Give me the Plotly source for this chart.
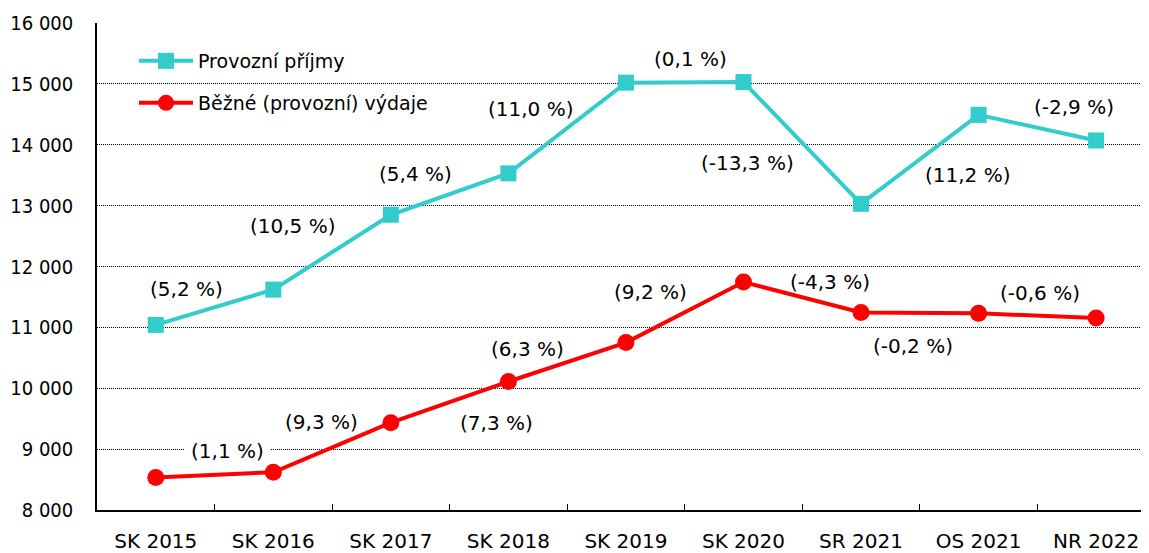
import plotly.graph_objects as go

categories = ["SK 2015", "SK 2016", "SK 2017", "SK 2018", "SK 2019",
              "SK 2020", "SR 2021", "OS 2021", "NR 2022"]
prijmy = [11040, 11620, 12850, 13530, 15020, 15030, 13030, 14490, 14070]
vydaje = [8535, 8620, 9435, 10110, 10750, 11745, 11245, 11230, 11155]

prijmy_labels = ["(5,2 %)", "(10,5 %)", "(5,4 %)", "(11,0 %)", "(0,1 %)",
                 "(-13,3 %)", "(11,2 %)", "(-2,9 %)"]
vydaje_labels = ["(1,1 %)", "(9,3 %)", "(7,3 %)", "(6,3 %)", "(9,2 %)",
                 "(-4,3 %)", "(-0,2 %)", "(-0,6 %)"]

# label placement (category position, value position)
prijmy_lab_x = [0.26, 1.17, 2.21, 3.19, 4.55, 5.03, 6.91, 7.81]
prijmy_lab_y = [11630, 12660, 13520, 14590, 15410, 13700, 13500, 14620]
vydaje_lab_x = [0.61, 1.41, 2.90, 3.16, 4.21, 5.74, 6.44, 7.52]
vydaje_lab_y = [8970, 9445, 9430, 10650, 11580, 11745, 10690, 11565]

FONT = "DejaVu Sans"
FONT_C = "DejaVu Sans Condensed"
CYAN = "#33CCCC"
RED = "#FF0000"
LABEL_SIZE = 20

OFF = 8  # page body margin
W, H = 1149 - OFF, 553 - OFF
ml, mt, mb = 97 - OFF, 23 - OFF, 43
pw = W - ml
ph = H - mt - mb
XR = [-0.5, 8.45]
YR = [8000, 16000]
px_per_cat = pw / (XR[1] - XR[0])
px_per_val = ph / (YR[1] - YR[0])

def px_x(p):
    return (p - OFF - ml) / pw

def px_y(p):
    return (H - mb - (p - OFF)) / ph

# approximate glyph widths (em) of DejaVu Sans, used to size white label backgrounds
EM = {"(": 0.39, ")": 0.39, ",": 0.318, " ": 0.318, "%": 0.95, "-": 0.361}

def text_px(t):
    return sum(EM.get(c, 0.636) for c in t) * LABEL_SIZE

fig = go.Figure()
fig.add_trace(go.Scatter(
    x=categories, y=prijmy, name="Provozní příjmy", mode="lines+markers",
    line=dict(color=CYAN, width=4), marker=dict(symbol="square", size=16, color=CYAN),
    legend="legend", showlegend=True))
fig.add_trace(go.Scatter(
    x=categories, y=vydaje, name="Běžné (provozní) výdaje", mode="lines+markers",
    line=dict(color=RED, width=4), marker=dict(symbol="circle", size=17, color=RED),
    legend="legend2", showlegend=True))

annotations = []
shapes = []
for t, x, y in list(zip(prijmy_labels, prijmy_lab_x, prijmy_lab_y)) + \
        list(zip(vydaje_labels, vydaje_lab_x, vydaje_lab_y)):
    annotations.append(dict(x=x, y=y, xref="x", yref="y", text=t, showarrow=False,
                            font=dict(family=FONT, size=LABEL_SIZE, color="black")))
    hw = (text_px(t) / 2 + 6) / px_per_cat
    hh = 12 / px_per_val
    shapes.append(dict(type="rect", xref="x", yref="y", x0=x - hw, x1=x + hw,
                       y0=y - hh, y1=y + hh, fillcolor="white",
                       line=dict(width=0), layer="between"))

shapes.append(dict(type="rect", xref="paper", yref="paper",
                   x0=px_x(113), x1=px_x(458), y0=px_y(125), y1=px_y(36),
                   fillcolor="white", line=dict(width=0), layer="between"))

fig.update_layout(
    width=W, height=H,
    margin=dict(l=ml, r=0, t=mt, b=mb, autoexpand=False),
    plot_bgcolor="white", paper_bgcolor="white",
    font=dict(family=FONT, size=19, color="black"),
    separators=", ",
    showlegend=True,
    annotations=annotations,
    shapes=shapes,
    legend=dict(x=px_x(134), y=px_y(61), xanchor="left", yanchor="middle",
                bgcolor="rgba(0,0,0,0)", font=dict(family=FONT, size=19),
                itemwidth=54, visible=True),
    legend2=dict(x=px_x(134), y=px_y(103), xanchor="left", yanchor="middle",
                 bgcolor="rgba(0,0,0,0)", font=dict(family=FONT, size=19),
                 itemwidth=54, visible=True),
    xaxis=dict(type="category", range=XR, showgrid=False,
               showline=True, linecolor="black", linewidth=1.5,
               ticks="inside", tickson="boundaries", ticklen=6, tickcolor="black",
               tickfont=dict(family=FONT, size=20), ticklabelstandoff=12),
    yaxis=dict(range=YR, dtick=1000, tickformat=",.0f",
               showgrid=True, gridcolor="black", gridwidth=1, griddash="1px,1px",
               showline=True, linecolor="black", linewidth=1.5, ticks="",
               zeroline=False, tickfont=dict(family=FONT_C, size=20),
               ticklabelstandoff=18),
)

fig.write_html("out.html")
